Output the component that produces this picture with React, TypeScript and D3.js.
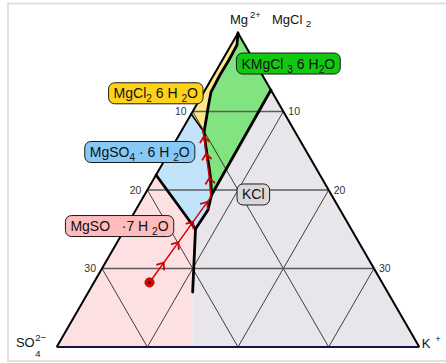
import React, { useEffect, useRef } from "react";
import * as d3 from "d3";

const W = 446;
const H = 363;

// Units: k = position across the SO4 (0) -> K (40) base, d = depth below the Mg apex (0 top, 40 base)
const depthTicks = [10, 20, 30];

const upperBoundary: [number, number][] = [
  [20, 0], [19.89, 1.53], [19.0, 3.44], [18.01, 5.35], [17.02, 7.52], [16.75, 9.17], [16.55, 10.6], [16.25, 12.61],
];
const lowerBoundary: [number, number][] = [
  [16.25, 12.61], [16.4, 14.0], [16.6, 15.6], [16.8, 17.0], [17.0, 18.7], [17.08, 20.64],
];
const kclBoundary: [number, number][] = [[23.63, 7.26], [17.08, 20.64]];
const blueGrayBoundary: [number, number][] = [[17.08, 20.64], [16.69, 22.55], [15.31, 24.97]];
const pinkBlueBoundary: [number, number][] = [[10.96, 18.09], [15.31, 24.97]];
const yellowBlueBoundary: [number, number][] = [[14.84, 10.32], [16.25, 12.61]];
const epsomiteBoundary: [number, number][] = [[15.31, 24.97], [15.0, 33.0]];
const pinkGrayEdge: [number, number][] = [[15.0, 33.0], [15.0, 40]];

const brinePath: [number, number][] = [
  [10.24, 31.78], [17.0, 20.9], [16.87, 18.7], [16.66, 16.9], [16.45, 15.2], [16.28, 13.6], [16.1, 12.2],
];
const arrowFractions = [0.14, 0.285, 0.43, 0.57, 0.715, 0.855, 0.955];

type Seg = { t: string; s?: "sub" | "sup"; dx?: number };

const fieldLabels: { k: number; d: number; fill: string; segs: Seg[] }[] = [
  { k: 25.55, d: 3.89, fill: "#12c912", segs: [{ t: "KMgCl " }, { t: "3", s: "sub" }, { t: " 6 H" }, { t: "2", s: "sub" }, { t: "O" }] },
  { k: 10.93, d: 7.68, fill: "#ffd21a", segs: [{ t: "MgCl" }, { t: "2", s: "sub" }, { t: " 6 H " }, { t: "2", s: "sub" }, { t: "O" }] },
  { k: 9.16, d: 15.16, fill: "#86c9f6", segs: [{ t: "MgSO" }, { t: "4", s: "sub" }, { t: " · 6 H " }, { t: "2", s: "sub" }, { t: "O" }] },
  { k: 21.69, d: 20.57, fill: "#d8d7da", segs: [{ t: "KCl" }] },
  { k: 6.93, d: 24.59, fill: "#ffbcbc", segs: [{ t: "MgSO   ·7 H " }, { t: "2", s: "sub" }, { t: "O" }] },
];

const FONT = "'Liberation Sans', Arial, Helvetica, sans-serif";

function rich(g: any, segs: Seg[], size: number, x: number, y: number, anchor: string) {
  const text = g
    .append("text")
    .attr("x", x)
    .attr("y", y)
    .attr("font-size", size)
    .attr("font-family", FONT)
    .attr("text-anchor", anchor)
    .attr("fill", "#111")
    .style("white-space", "pre");
  let cur = 0;
  for (const seg of segs) {
    const off = seg.s === "sub" ? size * 0.3 : seg.s === "sup" ? -size * 0.45 : 0;
    const ts = text.append("tspan").attr("dy", off - cur).text(seg.t);
    if (seg.s) ts.attr("font-size", size * 0.72);
    if (seg.dx) ts.attr("dx", seg.dx);
    cur = off;
  }
  return text;
}

export default function App() {
  const ref = useRef<SVGSVGElement>(null);

  useEffect(() => {
    const svg = d3.select(ref.current);
    svg.selectAll("*").remove();

    const xs = d3.scaleLinear().domain([0, 40]).range([56.7, 419.3]);
    const ys = d3.scaleLinear().domain([0, 40]).range([33, 347]);
    const P = (p: [number, number]) => [xs(p[0]), ys(p[1])] as [number, number];
    const line = d3.line<[number, number]>().x((p) => xs(p[0])).y((p) => ys(p[1]));
    const poly = (pts: [number, number][]) => line(pts) + "Z";

    const A: [number, number] = [20, 0];
    const BL: [number, number] = [0, 40];
    const BR: [number, number] = [40, 40];
    const leftAt = (d: number): [number, number] => [20 - d / 2, d];
    const rightAt = (d: number): [number, number] => [20 + d / 2, d];

    // frame
    svg.append("rect").attr("x", 8).attr("y", 3.5).attr("width", 460).attr("height", 357.5)
      .attr("fill", "none").attr("stroke", "#e2e2e2").attr("stroke-width", 2);

    const rev = (a: [number, number][]) => a.slice().reverse();

    // fields
    const fields: { pts: [number, number][]; fill: string }[] = [
      { pts: [BL, [15, 40], [15, 33], [15.31, 24.97], pinkBlueBoundary[0]], fill: "#fde0e2" },
      { pts: [[15, 40], BR, kclBoundary[0], ...blueGrayBoundary, [15, 33]], fill: "#e8e6ea" },
      { pts: [yellowBlueBoundary[0], pinkBlueBoundary[0], pinkBlueBoundary[1], ...rev(blueGrayBoundary).slice(1), ...rev(lowerBoundary)], fill: "#c2e4fb" },
      { pts: [...upperBoundary, ...lowerBoundary.slice(1), kclBoundary[0]], fill: "#82e381" },
      { pts: [A, yellowBlueBoundary[0], ...rev(upperBoundary)], fill: "#fde68c" },
    ];
    const gFields = svg.append("g");
    fields.forEach((f) => gFields.append("path").attr("d", poly(f.pts)).attr("fill", f.fill));

    // grid
    const gGrid = svg.append("g");
    depthTicks.forEach((d) => {
      gGrid.append("path").attr("d", line([leftAt(d), rightAt(d)])).attr("stroke", "#5c5c5c").attr("stroke-width", 1.6).attr("fill", "none");
      gGrid.append("path").attr("d", line([leftAt(d), [40 - d, 40]])).attr("stroke", "#111").attr("stroke-width", 0.8).attr("fill", "none");
      gGrid.append("path").attr("d", line([rightAt(d), [d, 40]])).attr("stroke", "#111").attr("stroke-width", 0.8).attr("fill", "none");
    });

    // triangle edges
    svg.append("path").attr("d", line([BL, A, BR])).attr("fill", "none").attr("stroke", "#000").attr("stroke-width", 2).attr("stroke-linejoin", "miter");
    svg.append("path").attr("d", line([BL, BR])).attr("fill", "none").attr("stroke", "#15153c").attr("stroke-width", 2);

    // boundaries
    const gB = svg.append("g").attr("fill", "none").attr("stroke", "#000").attr("stroke-linejoin", "round").attr("stroke-linecap", "round");
    [upperBoundary, lowerBoundary, kclBoundary, blueGrayBoundary, pinkBlueBoundary, epsomiteBoundary].forEach((b) =>
      gB.append("path").attr("d", line(b)).attr("stroke-width", 2.8)
    );
    gB.append("path").attr("d", line(yellowBlueBoundary)).attr("stroke-width", 1.6);
    gB.append("path").attr("d", line(pinkGrayEdge)).attr("stroke", "none");

    // tick labels
    depthTicks.forEach((d) => {
      const l = P(leftAt(d));
      const r = P(rightAt(d));
      svg.append("text").attr("x", l[0] - 6).attr("y", l[1] + 3.5).attr("text-anchor", "end").attr("font-size", 10.5).attr("font-family", FONT).attr("fill", "#333").text(String(d));
      svg.append("text").attr("x", r[0] + 5).attr("y", r[1] + 3.5).attr("text-anchor", "start").attr("font-size", 10.5).attr("font-family", FONT).attr("fill", "#333").text(String(d));
    });

    // brine path
    const red = "#d40000";
    const pathEl = svg.append("path").attr("d", line(brinePath)).attr("fill", "none").attr("stroke", red).attr("stroke-width", 1.4);
    const node = pathEl.node() as SVGPathElement;
    const total = node.getTotalLength();
    arrowFractions.forEach((f) => {
      const L = f * total;
      const p = node.getPointAtLength(L);
      const q = node.getPointAtLength(Math.min(total, L + 1));
      const ang = (Math.atan2(q.y - p.y, q.x - p.x) * 180) / Math.PI;
      svg.append("path")
        .attr("d", "M-6,-4.8L0,0L-6,4.8")
        .attr("transform", `translate(${p.x},${p.y}) rotate(${ang})`)
        .attr("fill", "none").attr("stroke", red).attr("stroke-width", 1.8).attr("stroke-linejoin", "miter");
    });
    const c = P(brinePath[0]);
    svg.append("circle").attr("cx", c[0]).attr("cy", c[1]).attr("r", 4.6).attr("fill", "#e00000").attr("stroke", "#b00000").attr("stroke-width", 0.8);
    svg.append("circle").attr("cx", c[0]).attr("cy", c[1]).attr("r", 1.4).attr("fill", "#2a0000");

    // field labels
    fieldLabels.forEach((lab) => {
      const [cx, cy] = P([lab.k, lab.d]);
      const g = svg.append("g");
      const rect = g.append("rect");
      const t = rich(g, lab.segs, 14, cx, cy + 5, "middle");
      const bb = (t.node() as SVGTextElement).getBBox();
      const padX = 5;
      rect.attr("x", bb.x - padX).attr("y", cy - 10.5).attr("width", bb.width + 2 * padX).attr("height", 21)
        .attr("rx", 6).attr("ry", 6).attr("fill", lab.fill).attr("stroke", "#1a1a1a").attr("stroke-width", 1);
    });

    // vertex labels
    const a = P(A);
    rich(svg, [{ t: "Mg" }, { t: "2+", s: "sup", dx: 2 }], 13, a[0] - 8, a[1] - 9.5, "start");
    rich(svg, [{ t: "MgCl " }, { t: "2", s: "sub" }], 13, a[0] + 34, a[1] - 9.5, "start");
    const bl = P(BL);
    svg.append("text").attr("x", bl[0] - 22).attr("y", bl[1]).attr("text-anchor", "end").attr("font-size", 13).attr("font-family", FONT).attr("fill", "#111").text("SO");
    svg.append("text").attr("x", bl[0] - 21.5).attr("y", bl[1] - 6).attr("font-size", 9.5).attr("font-family", FONT).attr("fill", "#111").text("2−");
    svg.append("text").attr("x", bl[0] - 21.5).attr("y", bl[1] + 10).attr("font-size", 9.5).attr("font-family", FONT).attr("fill", "#111").text("4");
    const br = P(BR);
    svg.append("text").attr("x", br[0] + 2.5).attr("y", br[1] + 0.5).attr("font-size", 13).attr("font-family", FONT).attr("fill", "#111").text("K");
    svg.append("text").attr("x", br[0] + 16).attr("y", br[1] - 5).attr("font-size", 9.5).attr("font-family", FONT).attr("fill", "#111").text("+");
  }, []);

  return (
    <svg
      ref={ref}
      width={W}
      height={H}
      style={{ position: "absolute", left: 0, top: 0, overflow: "hidden", background: "#fff" }}
    />
  );
}
